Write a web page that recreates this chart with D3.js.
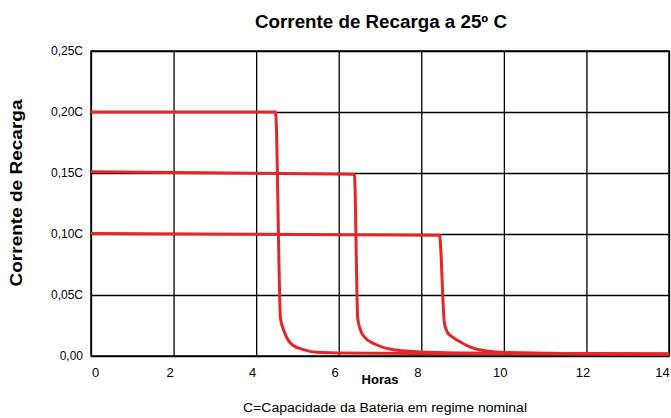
<!DOCTYPE html>
<html>
<head>
<meta charset="utf-8">
<script src="https://cdn.jsdelivr.net/npm/d3@7"></script>
<style>
  body { margin: 0; background: #fff; }
  svg text { font-family: "Liberation Sans", Arial, Helvetica, sans-serif; fill: #000; }
</style>
</head>
<body>
<div id="chart"></div>
<script>
// chart data
var xTicks = [0, 2, 4, 6, 8, 10, 12, 14];
var yTicks = [0, 0.05, 0.10, 0.15, 0.20, 0.25];
var yTickLabels = ["0,00", "0,05C", "0,10C", "0,15C", "0,20C", "0,25C"];

// [hours, current (C)]
var curve020 = [[0, 0.200], [4.47, 0.200], [4.59, 0.031], [4.69, 0.019], [4.88, 0.009],
  [5.17, 0.005], [5.46, 0.003], [6.0, 0.0025], [8.0, 0.002], [14, 0.0016]];
var curve015 = [[0, 0.151], [6.38, 0.149], [6.46, 0.031], [6.53, 0.021], [6.62, 0.0156],
  [6.87, 0.0098], [7.23, 0.0057], [7.95, 0.0033], [8.92, 0.0025], [14, 0.0016]];
var curve010 = [[0, 0.1005], [8.44, 0.099], [8.56, 0.027], [8.63, 0.0197], [8.75, 0.0156],
  [8.99, 0.0107], [9.24, 0.0066], [9.6, 0.0041], [10.0, 0.0029], [11.34, 0.002], [14, 0.0016]];

var series = [curve020, curve015, curve010];

var opt = {
  width: 671,
  height: 418,
  margin: {top: 51, right: 2, bottom: 62, left: 91}
};
opt.inWidth = opt.width - opt.margin.left - opt.margin.right;
opt.inHeight = opt.height - opt.margin.top - opt.margin.bottom;

var svg = d3.select("#chart").append("svg")
  .attr("width", opt.width)
  .attr("height", opt.height);

var g = svg.append("g")
  .attr("transform", "translate(" + opt.margin.left + "," + opt.margin.top + ")");

var x = d3.scaleLinear().domain([0, 14]).range([0, opt.inWidth]);
var y = d3.scaleLinear().domain([0, 0.25]).range([opt.inHeight, 0]);

// grid + y axis
var yAxis = g.append("g")
  .call(d3.axisLeft(y)
    .tickValues(yTicks)
    .tickSize(-opt.inWidth)
    .tickPadding(8)
    .tickFormat(function(d, i) { return yTickLabels[i]; }));
yAxis.select(".domain").remove();
yAxis.selectAll("line").attr("stroke", "#000").attr("stroke-width", 1.3);
yAxis.selectAll("text").style("font-size", "12px").attr("fill", "#000");

// grid + x axis
var xAxis = g.append("g")
  .attr("transform", "translate(0," + opt.inHeight + ")")
  .call(d3.axisBottom(x)
    .tickValues(xTicks)
    .tickSize(-opt.inHeight)
    .tickPadding(12)
    .tickFormat(d3.format("d")));
xAxis.select(".domain").remove();
xAxis.selectAll("line").attr("stroke", "#000").attr("stroke-width", 1.3);
xAxis.selectAll("text").style("font-size", "13px").attr("fill", "#000")
  .attr("dx", function(d) { return d === 0 ? 4 : (d === 14 ? -7 : -4); });

// frame
g.append("rect")
  .attr("width", opt.inWidth)
  .attr("height", opt.inHeight)
  .attr("fill", "none")
  .attr("stroke", "#000")
  .attr("stroke-width", 1.5);

// curves
var line = d3.line()
  .x(function(d) { return x(d[0]); })
  .y(function(d) { return y(d[1]); })
  .curve(d3.curveMonotoneX);

g.selectAll(".curve")
  .data(series).enter()
  .append("path")
  .attr("class", "curve")
  .attr("d", line)
  .attr("fill", "none")
  .attr("stroke", "#e52629")
  .attr("stroke-width", 3)
  .attr("stroke-linejoin", "round");

// titles
svg.append("text")
  .attr("x", 381).attr("y", 28)
  .attr("text-anchor", "middle")
  .attr("textLength", 252).attr("lengthAdjust", "spacingAndGlyphs")
  .style("font-size", "18px").style("font-weight", "bold")
  .text("Corrente de Recarga a 25º C");

svg.append("text")
  .attr("transform", "translate(22,193) rotate(-90)")
  .attr("text-anchor", "middle")
  .attr("textLength", 187).attr("lengthAdjust", "spacingAndGlyphs")
  .style("font-size", "17px").style("font-weight", "bold")
  .text("Corrente de Recarga");

svg.append("text")
  .attr("x", 380).attr("y", 384)
  .attr("text-anchor", "middle")
  .style("font-size", "13px").style("font-weight", "bold")
  .text("Horas");

svg.append("text")
  .attr("x", 385).attr("y", 412)
  .attr("text-anchor", "middle")
  .attr("textLength", 284).attr("lengthAdjust", "spacingAndGlyphs")
  .style("font-size", "12.5px")
  .text("C=Capacidade da Bateria em regime nominal");
</script>
</body>
</html>
